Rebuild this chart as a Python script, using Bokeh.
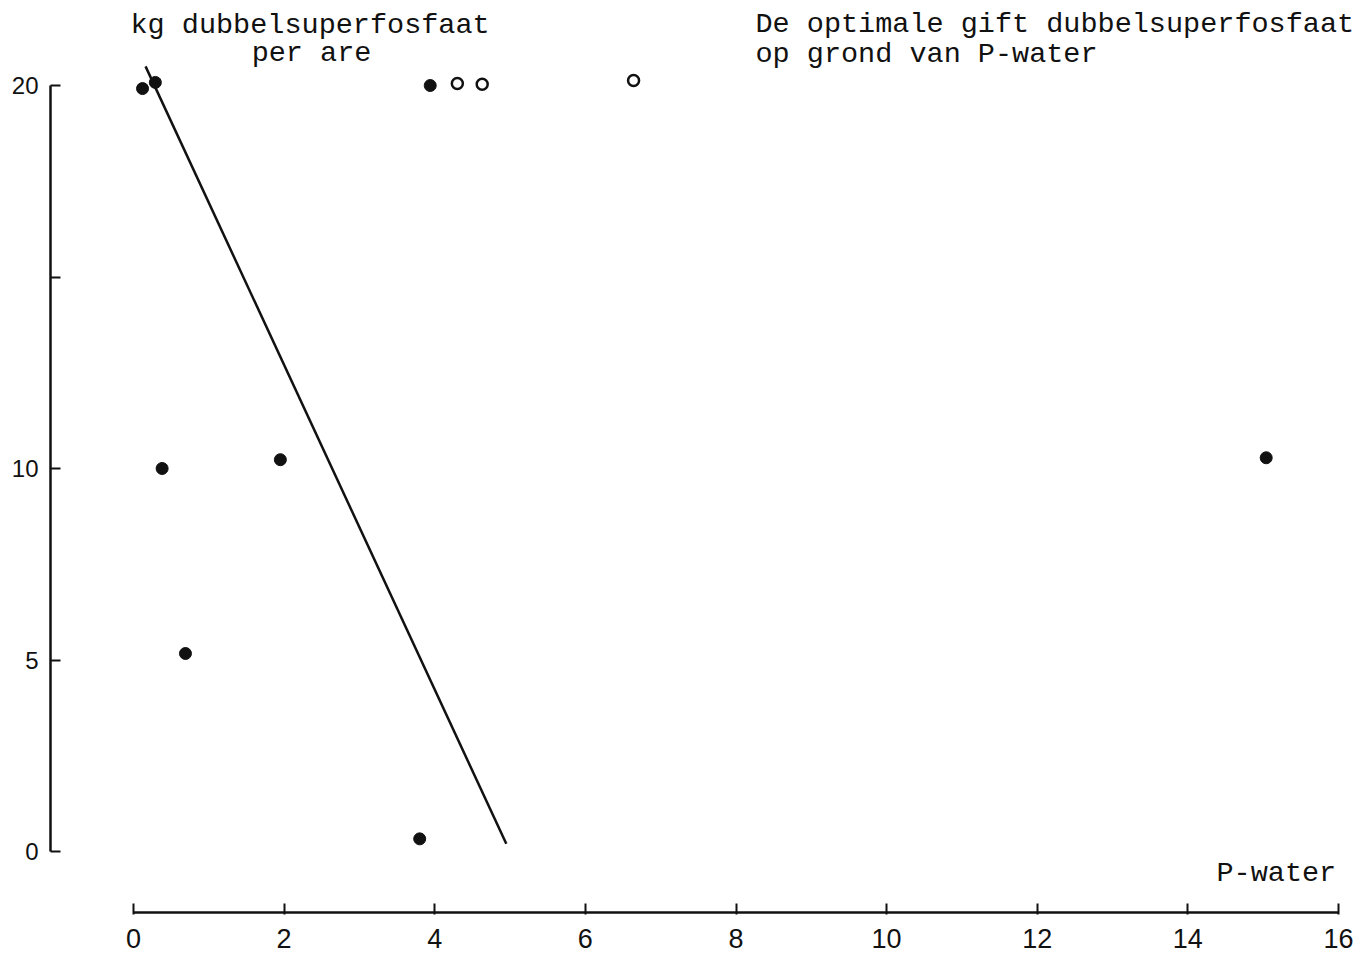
from bokeh.plotting import figure
from bokeh.models import Range1d, LinearAxis, FixedTicker, Label
from bokeh.embed import file_html
from bokeh.resources import INLINE

# ---- data ----
p_water_filled = [0.12, 0.29, 3.94, 0.38, 1.95, 0.69, 3.80, 15.04]
gift_filled = [19.92, 20.08, 20.0, 10.0, 10.23, 5.17, 0.33, 10.28]
p_water_open = [4.30, 4.63, 6.64]
gift_open = [20.05, 20.03, 20.13]
trend_x = [0.16, 4.95]
trend_y = [20.5, 0.2]
x_ticks = [0, 2, 4, 6, 8, 10, 12, 14, 16]
y_ticks = [0, 5, 10, 15, 20]
y_tick_labels = {0: "0", 5: "5", 10: "10", 15: "", 20: "20"}

# ---- layout mapping helpers (page pixels -> data) ----
X0, XS = 133.0, 1205.0 / 16.0
Y0, YS = 851.0, 766.0 / 20.0
def px(x):
    return (x - X0) / XS
def py(y):
    return (Y0 - y) / YS

W, H = 1366, 954
p = figure(width=W, height=H, output_backend="svg", toolbar_location=None,
           x_axis_location=None, y_axis_location=None,
           min_border_left=50, min_border_right=0, min_border_top=0, min_border_bottom=0,
           x_range=Range1d(px(50), px(1366)), y_range=Range1d(py(954), py(0)))
p.outline_line_color = None
p.xgrid.visible = False
p.ygrid.visible = False
p.background_fill_color = "white"
p.border_fill_color = "white"

INK = "#111111"

yax = LinearAxis(ticker=FixedTicker(ticks=y_ticks), bounds=(0, 20))
yax.major_label_overrides = y_tick_labels
yax.axis_line_width = 2.5
yax.axis_line_color = INK
yax.major_tick_in = 10
yax.major_tick_out = 0
yax.major_tick_line_width = 2
yax.major_tick_line_color = INK
yax.minor_tick_line_color = None
yax.major_label_standoff = 12
yax.major_label_text_font = "Liberation Sans"
yax.major_label_text_font_size = "24px"
yax.major_label_text_color = INK
p.add_layout(yax, "left")

xax = LinearAxis(ticker=FixedTicker(ticks=x_ticks), bounds=(0, 16), fixed_location=py(912))
xax.axis_line_width = 2.5
xax.axis_line_color = INK
xax.major_tick_in = 9
xax.major_tick_out = 2
xax.major_tick_line_width = 2
xax.major_tick_line_color = INK
xax.minor_tick_line_color = None
xax.major_label_standoff = 14
xax.major_label_text_font = "Liberation Sans"
xax.major_label_text_font_size = "27px"
xax.major_label_text_color = INK
p.add_layout(xax, "below")

p.line(trend_x, trend_y, line_color=INK, line_width=2.5)
p.scatter(p_water_filled, gift_filled, marker="circle", size=12,
          fill_color=INK, line_color=INK, line_width=1)
p.scatter(p_water_open, gift_open, marker="circle", size=11,
          fill_color="white", line_color=INK, line_width=2.5)

FONT = "Liberation Mono"
FS = "28.5px"
def lab(text, x, y, align="left"):
    p.add_layout(Label(x=px(x), y=py(y), text=text, text_font=FONT, text_font_size=FS,
                       text_color=INK, text_align=align, text_baseline="alphabetic"))

lab("kg dubbelsuperfosfaat", 130, 25)
lab("per are", 311, 53, "center")
lab("De optimale gift dubbelsuperfosfaat", 755, 24)
lab("op grond van P-water", 755, 54)
lab("P-water", 1216, 873)

open("out.html", "w").write(file_html(p, INLINE))
